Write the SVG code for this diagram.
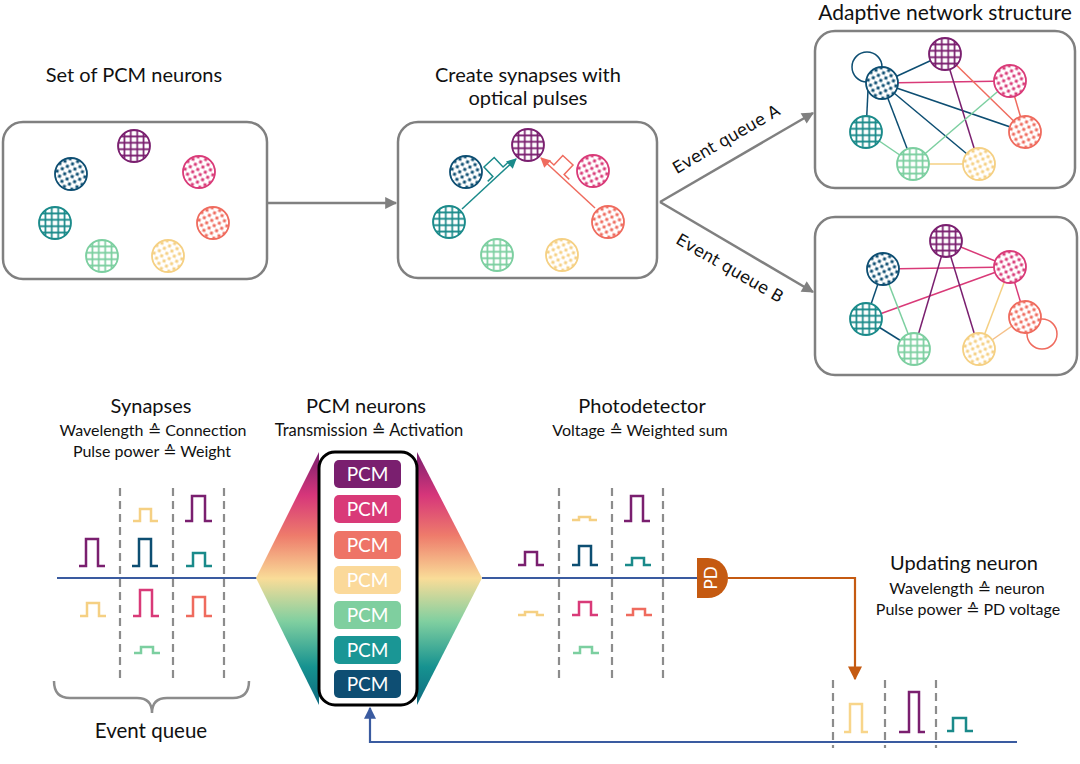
<svg xmlns="http://www.w3.org/2000/svg" width="1080" height="764" viewBox="0 0 1080 764">
<style>
.t{font-family:Lato,"DejaVu Sans",sans-serif;fill:#111;text-anchor:middle}
.h{font-size:20px}
.s{font-size:16px}
.eq{font-family:"DejaVu Sans",Verdana,sans-serif;font-size:16.5px;fill:#111;text-anchor:middle}
.box{fill:#fff;stroke:#808080;stroke-width:2.5}
.garrow{stroke:#808080;stroke-width:2.5;fill:none}
.dash{stroke:#8c8c8c;stroke-width:2.2;stroke-dasharray:8 5;fill:none}
.p{fill:none;stroke-width:2.5}
.e{stroke-width:1.5;fill:none}
.pcm{font-family:Lato,"DejaVu Sans",sans-serif;font-size:19px;fill:#fff;text-anchor:middle}
</style>
<defs>
<pattern id="gP" width="6.4" height="6.4" patternUnits="userSpaceOnUse"><path d="M3.2 0V6.4M0 3.2H6.4" stroke="#7a1f6f" stroke-width="1.7"/></pattern>
<pattern id="gT" width="6.4" height="6.4" patternUnits="userSpaceOnUse"><path d="M3.2 0V6.4M0 3.2H6.4" stroke="#1a8a8a" stroke-width="1.7"/></pattern>
<pattern id="gG" width="6.4" height="6.4" patternUnits="userSpaceOnUse"><path d="M3.2 0V6.4M0 3.2H6.4" stroke="#7ccfa0" stroke-width="1.7"/></pattern>
<pattern id="dB" width="8" height="8" patternUnits="userSpaceOnUse" patternTransform="rotate(20)"><rect x="0.5" y="0.5" width="3" height="3" fill="#0d4e72"/><rect x="4.5" y="4.5" width="3" height="3" fill="#0d4e72"/></pattern>
<pattern id="dK" width="8" height="8" patternUnits="userSpaceOnUse" patternTransform="rotate(20)"><rect x="0.5" y="0.5" width="3" height="3" fill="#d93a78"/><rect x="4.5" y="4.5" width="3" height="3" fill="#d93a78"/></pattern>
<pattern id="dC" width="8" height="8" patternUnits="userSpaceOnUse" patternTransform="rotate(20)"><rect x="0.5" y="0.5" width="3" height="3" fill="#ef6b5e"/><rect x="4.5" y="4.5" width="3" height="3" fill="#ef6b5e"/></pattern>
<pattern id="dY" width="8" height="8" patternUnits="userSpaceOnUse" patternTransform="rotate(20)"><rect x="0.5" y="0.5" width="3" height="3" fill="#f5d083"/><rect x="4.5" y="4.5" width="3" height="3" fill="#f5d083"/></pattern>
<g id="nP"><circle r="16" fill="#fff"/><circle r="16" fill="url(#gP)" stroke="#7a1f6f" stroke-width="1.8"/></g>
<g id="nT"><circle r="16" fill="#fff"/><circle r="16" fill="url(#gT)" stroke="#1a8a8a" stroke-width="1.8"/></g>
<g id="nG"><circle r="16" fill="#fff"/><circle r="16" fill="url(#gG)" stroke="#7ccfa0" stroke-width="1.8"/></g>
<g id="nB"><circle r="16" fill="#fff"/><circle r="16" fill="url(#dB)" stroke="#0d4e72" stroke-width="1.8"/></g>
<g id="nK"><circle r="16" fill="#fff"/><circle r="16" fill="url(#dK)" stroke="#d93a78" stroke-width="1.8"/></g>
<g id="nC"><circle r="16" fill="#fff"/><circle r="16" fill="url(#dC)" stroke="#ef6b5e" stroke-width="1.8"/></g>
<g id="nY"><circle r="16" fill="#fff"/><circle r="16" fill="url(#dY)" stroke="#f5d083" stroke-width="1.8"/></g>
<marker id="mGray" viewBox="0 0 10 10" refX="9" refY="5" markerWidth="14" markerHeight="12" markerUnits="userSpaceOnUse" orient="auto"><path d="M0 0L10 5L0 10z" fill="#808080"/></marker>
<marker id="mTeal" viewBox="0 0 10 10" refX="9" refY="5" markerWidth="12" markerHeight="10" markerUnits="userSpaceOnUse" orient="auto"><path d="M0 0L10 5L0 10z" fill="#1a8a8a"/></marker>
<marker id="mCoral" viewBox="0 0 10 10" refX="9" refY="5" markerWidth="12" markerHeight="10" markerUnits="userSpaceOnUse" orient="auto"><path d="M0 0L10 5L0 10z" fill="#ef6b5e"/></marker>
<marker id="mOrange" viewBox="0 0 10 10" refX="9" refY="5" markerWidth="14" markerHeight="14" markerUnits="userSpaceOnUse" orient="auto"><path d="M0 0L10 5L0 10z" fill="#c55a11"/></marker>
<marker id="mBlue" viewBox="0 0 10 10" refX="9" refY="5" markerWidth="12" markerHeight="12" markerUnits="userSpaceOnUse" orient="auto"><path d="M0 0L10 5L0 10z" fill="#3a5ba0"/></marker>
<linearGradient id="spec" x1="0" y1="0" x2="0" y2="1">
<stop offset="0" stop-color="#7a1f6f"/><stop offset="0.17" stop-color="#d6367a"/><stop offset="0.33" stop-color="#ee7b6b"/><stop offset="0.5" stop-color="#f9dc98"/><stop offset="0.67" stop-color="#80cfa0"/><stop offset="0.85" stop-color="#169290"/><stop offset="1" stop-color="#0e6a80"/>
</linearGradient>
</defs>
<rect width="1080" height="764" fill="#fff"/>

<!-- titles -->
<text class="t h" x="134" y="82">Set of PCM neurons</text>
<text class="t h" x="528" y="82">Create synapses with</text>
<text class="t h" x="528" y="105">optical pulses</text>
<text class="t" style="font-size:21px" x="945" y="20">Adaptive network structure</text>

<!-- boxes -->
<g id="box1"><rect class="box" x="3" y="122" width="264" height="157" rx="20"/></g>
<g id="box2"><rect class="box" x="398" y="122" width="259" height="156" rx="20"/></g>
<g id="box3"><rect class="box" x="815" y="31" width="260" height="157" rx="20"/></g>
<g id="box4"><rect class="box" x="815" y="217" width="262" height="158" rx="20"/></g>

<g id="connectors">
<path class="garrow" d="M267 203H396" marker-end="url(#mGray)"/>
<path class="garrow" d="M660 202L813 113" marker-end="url(#mGray)"/>
<path class="garrow" d="M660 202L813 292" marker-end="url(#mGray)"/>
<!-- box2 synapse arrows -->
<path class="e" stroke="#1a8a8a" d="M462 209L516 159" marker-end="url(#mTeal)"/>
<path class="e" stroke="#ef6b5e" d="M595 208L541 158" marker-end="url(#mCoral)"/>
<path class="e" stroke="#1a8a8a" transform="translate(500 174) rotate(-43)" d="M-14 -3H-7V-16H7V-3H14"/>
<path class="e" stroke="#ef6b5e" transform="translate(557 172) rotate(43)" d="M-14 -3H-7V-16H7V-3H14"/>
<!-- box3 edges -->
<circle class="e" stroke="#0d4e72" cx="867" cy="67" r="15"/>
<line class="e" stroke="#0d4e72" x1="882" y1="83" x2="945" y2="54"/>
<line class="e" stroke="#d93a78" x1="882" y1="83" x2="1010" y2="81"/>
<line class="e" stroke="#0d4e72" x1="882" y1="83" x2="1025" y2="132"/>
<line class="e" stroke="#0d4e72" x1="882" y1="83" x2="979" y2="164"/>
<line class="e" stroke="#0d4e72" x1="882" y1="83" x2="913" y2="164"/>
<line class="e" stroke="#0d4e72" x1="868" y1="90" x2="866" y2="132"/>
<line class="e" stroke="#7a1f6f" x1="945" y1="54" x2="979" y2="164"/>
<line class="e" stroke="#ef6b5e" x1="945" y1="54" x2="1025" y2="132"/>
<line class="e" stroke="#ef6b5e" x1="1010" y1="81" x2="1025" y2="132"/>
<line class="e" stroke="#7ccfa0" x1="1010" y1="81" x2="913" y2="164"/>
<line class="e" stroke="#7ccfa0" x1="866" y1="132" x2="913" y2="164"/>
<line class="e" stroke="#f5d083" x1="913" y1="164" x2="979" y2="164"/>
<!-- box4 edges -->
<circle class="e" stroke="#ef6b5e" cx="1042" cy="334" r="15"/>
<line class="e" stroke="#d93a78" x1="946" y1="241" x2="1010" y2="267"/>
<line class="e" stroke="#d93a78" x1="883" y1="269" x2="1010" y2="267"/>
<line class="e" stroke="#d93a78" x1="866" y1="319" x2="1010" y2="267"/>
<line class="e" stroke="#0d4e72" x1="883" y1="269" x2="866" y2="319"/>
<line class="e" stroke="#7ccfa0" x1="883" y1="269" x2="914" y2="349"/>
<line class="e" stroke="#0d4e72" x1="866" y1="319" x2="914" y2="349"/>
<line class="e" stroke="#7a1f6f" x1="946" y1="241" x2="914" y2="349"/>
<line class="e" stroke="#7a1f6f" x1="946" y1="241" x2="979" y2="349"/>
<line class="e" stroke="#f5d083" x1="1010" y1="267" x2="979" y2="349"/>
<line class="e" stroke="#d93a78" x1="1010" y1="267" x2="1025" y2="317"/>
<line class="e" stroke="#f5c08a" x1="979" y1="349" x2="1025" y2="317"/>
<!-- bottom connectors -->
<path d="M57 578H257" stroke="#3a5ba0" stroke-width="2.2" fill="none"/>
<path d="M482 578H698" stroke="#3a5ba0" stroke-width="2.2" fill="none"/>
<path d="M728 578H855V679" stroke="#c55a11" stroke-width="2.2" fill="none" marker-end="url(#mOrange)"/>
<path d="M1017 742H370V708" stroke="#3a5ba0" stroke-width="2.2" fill="none" marker-end="url(#mBlue)"/>
</g>

<text class="eq" transform="translate(729 144) rotate(-30)">Event queue A</text>
<text class="eq" transform="translate(727 273) rotate(30)">Event queue B</text>

<!-- box1 neurons -->
<g id="b1-purple"><use href="#nP" x="134" y="146"/></g>
<g id="b1-darkblue"><use href="#nB" x="71" y="174"/></g>
<g id="b1-pink"><use href="#nK" x="199" y="172"/></g>
<g id="b1-teal"><use href="#nT" x="55" y="223"/></g>
<g id="b1-coral"><use href="#nC" x="213" y="223"/></g>
<g id="b1-green"><use href="#nG" x="102" y="256"/></g>
<g id="b1-yellow"><use href="#nY" x="168" y="256"/></g>
<!-- box2 neurons -->
<g id="b2-purple"><use href="#nP" x="528" y="145"/></g>
<g id="b2-darkblue"><use href="#nB" x="466" y="172"/></g>
<g id="b2-pink"><use href="#nK" x="593" y="171"/></g>
<g id="b2-teal"><use href="#nT" x="449" y="222"/></g>
<g id="b2-coral"><use href="#nC" x="608" y="222"/></g>
<g id="b2-green"><use href="#nG" x="497" y="255"/></g>
<g id="b2-yellow"><use href="#nY" x="562" y="255"/></g>
<!-- box3 neurons -->
<g id="b3-purple"><use href="#nP" x="945" y="54"/></g>
<g id="b3-darkblue"><use href="#nB" x="882" y="83"/></g>
<g id="b3-pink"><use href="#nK" x="1010" y="81"/></g>
<g id="b3-teal"><use href="#nT" x="866" y="132"/></g>
<g id="b3-coral"><use href="#nC" x="1025" y="132"/></g>
<g id="b3-green"><use href="#nG" x="913" y="164"/></g>
<g id="b3-yellow"><use href="#nY" x="979" y="164"/></g>
<!-- box4 neurons -->
<g id="b4-purple"><use href="#nP" x="946" y="241"/></g>
<g id="b4-darkblue"><use href="#nB" x="883" y="269"/></g>
<g id="b4-pink"><use href="#nK" x="1010" y="267"/></g>
<g id="b4-teal"><use href="#nT" x="866" y="319"/></g>
<g id="b4-coral"><use href="#nC" x="1025" y="317"/></g>
<g id="b4-green"><use href="#nG" x="914" y="349"/></g>
<g id="b4-yellow"><use href="#nY" x="979" y="349"/></g>

<!-- bottom section -->
<g id="synapses">
<text class="t" style="font-size:20px" x="151" y="413">Synapses</text>
<text class="t s" x="153" y="436">Wavelength ≙ Connection</text>
<text class="t s" x="152" y="457">Pulse power ≙ Weight</text>
<path class="dash" d="M120 488V678M173 488V678M224 488V678"/>
<path class="p" stroke="#7a1f6f" d="M79 566H86V539H98V566H105"/>
<path class="p" stroke="#f5d083" d="M80 616H87V603H99V616H106"/>
<path class="p" stroke="#f5d083" d="M133 521H140V509H151V521H158"/>
<path class="p" stroke="#0d4e72" d="M132 566H139V539H151V566H158"/>
<path class="p" stroke="#d93a78" d="M133 616H140V590H152V616H159"/>
<path class="p" stroke="#7ccfa0" d="M134 653H141V647H153V653H160"/>
<path class="p" stroke="#7a1f6f" d="M185 521H192V496H205V521H212"/>
<path class="p" stroke="#1a8a8a" d="M186 566H193V553H205V566H212"/>
<path class="p" stroke="#ef6b5e" d="M186 616H193V597H205V616H212"/>
<path d="M54 681Q54 698 70 698H137Q152 698 152 713Q152 698 167 698H233Q249 698 249 681" stroke="#8c8c8c" stroke-width="2.5" fill="none"/>
<text class="t" style="font-size:20.5px" x="151" y="738">Event queue</text>
</g>

<g id="pcm-neurons">
<text class="t" style="font-size:20px" x="366" y="413">PCM neurons</text>
<text class="t" style="font-size:16.5px" x="369" y="436">Transmission ≙ Activation</text>
<polygon points="256,578 319,452 319,705" fill="url(#spec)"/>
<polygon points="417,452 482,578 417,705" fill="url(#spec)"/>
<rect x="319" y="452" width="98" height="253" rx="16" fill="#fff" stroke="#000" stroke-width="3"/>
<rect x="334" y="460" width="67" height="28" rx="5" fill="#7a1f6f"/><text class="pcm" x="367.5" y="481">PCM</text>
<rect x="334" y="495" width="67" height="28" rx="5" fill="#d93a78"/><text class="pcm" x="367.5" y="516">PCM</text>
<rect x="334" y="531" width="67" height="28" rx="5" fill="#ee7467"/><text class="pcm" x="367.5" y="552">PCM</text>
<rect x="334" y="566" width="67" height="28" rx="5" fill="#fbd99a"/><text class="pcm" x="367.5" y="587">PCM</text>
<rect x="334" y="601" width="67" height="28" rx="5" fill="#7fcf9f"/><text class="pcm" x="367.5" y="622">PCM</text>
<rect x="334" y="636" width="67" height="28" rx="5" fill="#1a9695"/><text class="pcm" x="367.5" y="657">PCM</text>
<rect x="334" y="670" width="67" height="28" rx="5" fill="#0e4e73"/><text class="pcm" x="367.5" y="691">PCM</text>
</g>

<g id="photodetector">
<text class="t" style="font-size:20px" x="642" y="413">Photodetector</text>
<text class="t s" x="640" y="436">Voltage ≙ Weighted sum</text>
<path class="dash" d="M559 488V678M612 488V678M663 488V678"/>
<path class="p" stroke="#7a1f6f" d="M518 565H525V552H537V565H544"/>
<path class="p" stroke="#f5d083" d="M518 615H525V612H537V615H544"/>
<path class="p" stroke="#f5d083" d="M572 520H579V517H590V520H597"/>
<path class="p" stroke="#0d4e72" d="M572 565H579V546H591V565H598"/>
<path class="p" stroke="#d93a78" d="M572 615H579V602H591V615H598"/>
<path class="p" stroke="#7ccfa0" d="M573 653H580V647H592V653H599"/>
<path class="p" stroke="#7a1f6f" d="M624 521H631V496H643V521H650"/>
<path class="p" stroke="#1a8a8a" d="M625 565H632V558H644V565H651"/>
<path class="p" stroke="#ef6b5e" d="M626 615H633V609H645V615H652"/>
<path d="M697 558H708A20 20 0 0 1 708 598H697Z" fill="#c55a11"/>
<text transform="translate(717 578) rotate(-90)" style="font-family:Lato,'DejaVu Sans',sans-serif;font-size:17px;fill:#fff;text-anchor:middle">PD</text>
</g>

<g id="updating-neuron">
<text class="t" style="font-size:20px" x="964" y="570">Updating neuron</text>
<text class="t s" x="967" y="594">Wavelength ≙ neuron</text>
<text class="t s" x="968" y="615">Pulse power ≙ PD voltage</text>
<path class="dash" d="M833 680V748M885 680V748M936 680V748"/>
<path class="p" stroke="#f8d58a" d="M844 732H850V704H862V732H868"/>
<path class="p" stroke="#7a1f6f" d="M899 732H909V692H919V732H925"/>
<path class="p" stroke="#1a8a8a" d="M947 731H953V718H966V731H973"/>
</g>
</svg>
